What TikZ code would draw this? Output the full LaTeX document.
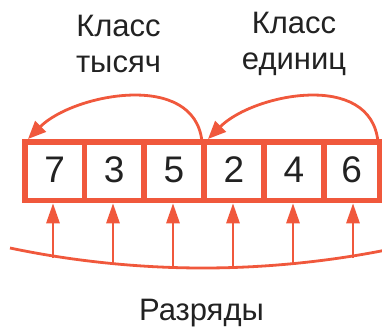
\documentclass[tikz,border=0pt]{standalone}
\usepackage{fontspec}
\setmainfont{Liberation Sans}
\usetikzlibrary{arrows.meta,calc}
\definecolor{accent}{HTML}{F0583C}
\definecolor{ink}{HTML}{222222}
\tikzset{
  cell/.style={draw=accent, line width=5.5pt, minimum height=58.5pt, inner sep=0pt,
    text=ink, text height=27pt, text depth=5pt, font=\fontsize{37}{40}\selectfont},
  label/.style={text=ink, align=center, inner sep=0pt, font=\fontsize{31}{36}\selectfont},
  classarrow/.style={draw=accent, line width=2.8pt, -{Triangle[length=18pt,width=15pt]}},
  digitarrow/.style={draw=accent, line width=2.8pt, -{Triangle[length=20pt,width=13pt]}},
  brace/.style={draw=accent, line width=2.8pt}
}
\begin{document}
\begin{tikzpicture}[x=1pt,y=-1pt]
\useasboundingbox (0,0) rectangle (382,326);
% cells
\node[cell, minimum width=59.5pt] (c1) at (54.75,171.25) {7};
\node[cell, minimum width=59.5pt] (c2) at (114.25,171.25) {3};
\node[cell, minimum width=60pt] (c3) at (174,171.25) {5};
\node[cell, minimum width=60pt] (c4) at (234,171.25) {2};
\node[cell, minimum width=60pt] (c5) at (294,171.25) {4};
\node[cell, minimum width=55.5pt] (c6) at (351.75,171.25) {6};
% labels
\node[label] (t1) at (118.5,44) {Класс\\тысяч};
\node[label] (t2) at (294,44) {Класс\\единиц};
\node[label] (t3) at (201.5,313) {Разряды};
% class arcs
\coordinate (a1s) at (202,142);
\coordinate (a1e) at (28,139);
\coordinate (a2s) at (378,142);
\coordinate (a2e) at (208,139);
\draw[classarrow] (a1s) .. controls (195,70) and (73,94) .. (a1e);
\draw[classarrow] (a2s) .. controls (371,70) and (253,94) .. (a2e);
% bottom brace
\draw[brace] (10,248) parabola bend (203,268) (396,248);
\coordinate (b1) at (53,258);
\coordinate (b2) at (113,264.4);
\coordinate (b3) at (173,267.6);
\coordinate (b4) at (233,267.6);
\coordinate (b5) at (293,264.4);
\coordinate (b6) at (353,258);
\draw[digitarrow] (b1) -- (b1 |- c1.south);
\draw[digitarrow] (b2) -- (b2 |- c2.south);
\draw[digitarrow] (b3) -- (b3 |- c3.south);
\draw[digitarrow] (b4) -- (b4 |- c4.south);
\draw[digitarrow] (b5) -- (b5 |- c5.south);
\draw[digitarrow] (b6) -- (b6 |- c6.south);
\end{tikzpicture}
\end{document}
